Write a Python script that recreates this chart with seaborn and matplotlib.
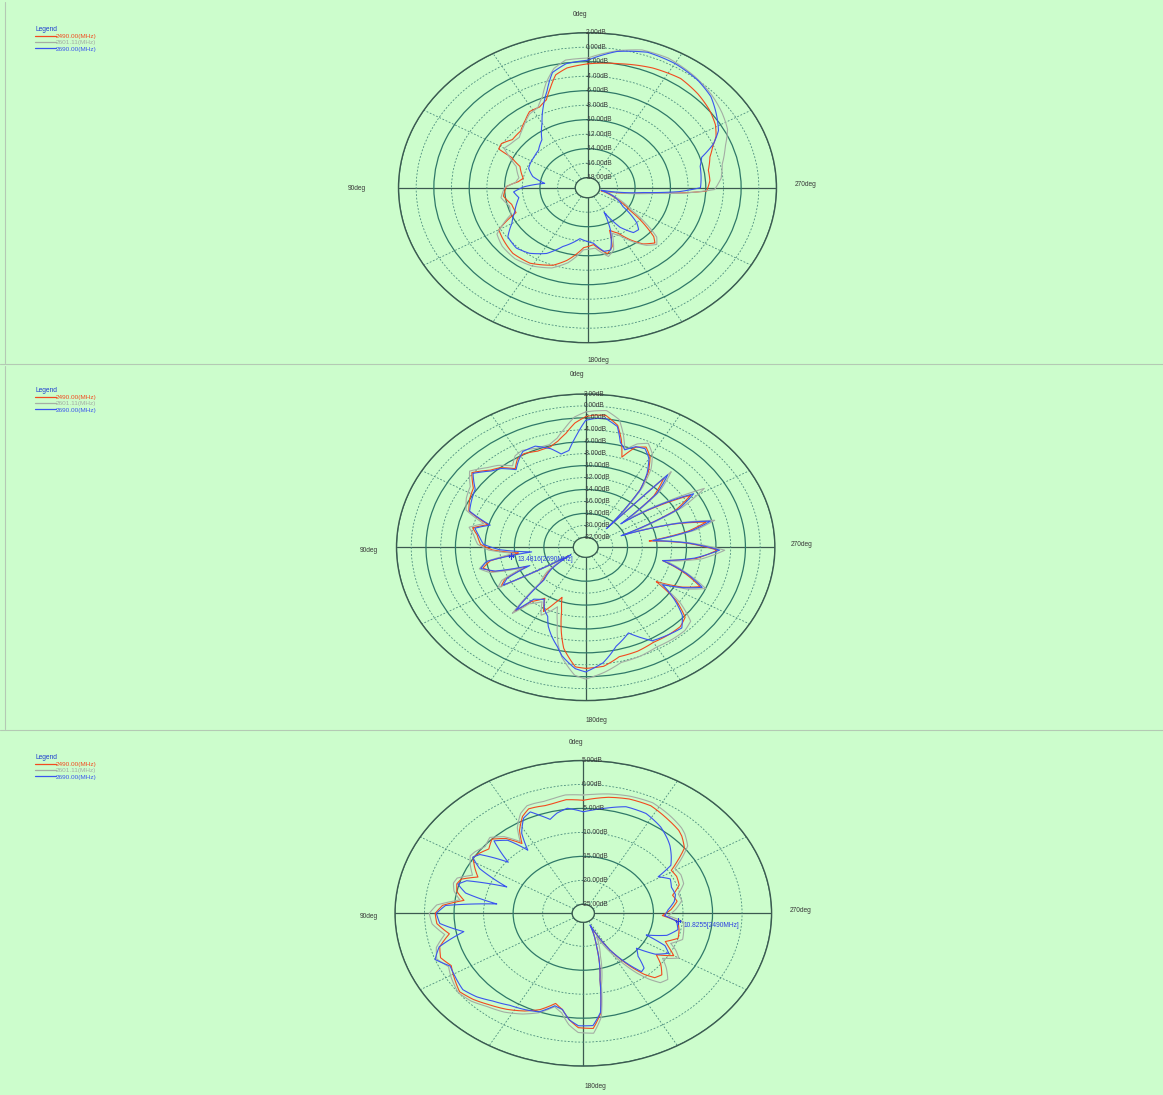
import numpy as np
import pandas as pd
import matplotlib
matplotlib.use("Agg")
import matplotlib.pyplot as plt
from matplotlib.lines import Line2D
import seaborn as sns

W, H = 1163, 1095
BG = "#ccfdcc"
FREQS = ["2490.00(MHz)", "2601.11(MHz)", "2690.00(MHz)"]
COLORS = ["#f24a1f", "#a4ada4", "#3a55ee"]
OUTER = "#3c5a50"
SOLID = "#2f7868"
DASH = "#4b8c7d"
TXT = "#3a3a3a"
MARK = "#2b3fe0"

# ---------------- panel 1 data (deg, dB) ----------------
P1_T_RED = [0, 8, 13, 17, 21, 26, 32, 37, 44, 52, 58, 62, 64, 69, 80, 84, 89, 97, 105, 113,
            117, 120, 126, 137, 148, 160, 167, 177, 185, 194, 199, 203, 209, 214, 219, 225, 228, 231, 237, 247,
            255, 264, 266, 268, 274, 280, 287, 292, 296, 301, 308, 316, 325, 336, 348, 360]
P1_DB_RED = [-2.3, -2.7, -3.4, -5.0, -6.4, -7.0, -7.0, -7.7, -8.5, -8.6, -7.9, -8.0, -9.8, -11.2, -12.0, -11.5, -10.2, -9.8, -10.5, -10.6,
             -9.0, -7.8, -7.5, -7.0, -7.1, -8.0, -9.1, -11.1, -11.5, -10.0, -10.8, -13.0, -12.2, -10.7, -9.4, -8.6, -9.3, -10.8, -13.7, -16.2,
             -17.8, -12.6, -8.9, -5.9, -5.5, -5.5, -4.9, -4.1, -3.2, -2.5, -1.9, -1.4, -1.0, -1.3, -1.9, -2.3]
P1_T_GRAY = [0, 8, 13, 18, 22, 27, 33, 40, 48, 55, 60, 64, 70, 80, 85, 90, 98, 106, 113, 118,
             122, 130, 140, 150, 160, 168, 177, 186, 194, 199, 204, 209, 215, 220, 225, 229, 232, 238, 248, 256,
             264, 266, 269, 275, 282, 290, 297, 304, 312, 322, 333, 342, 350, 360]
P1_DB_GRAY = [-1.5, -1.6, -2.5, -4.2, -5.8, -7.0, -7.3, -8.2, -9.0, -8.8, -8.5, -9.5, -10.8, -11.5, -11.2, -10.0, -9.5, -10.2, -10.0, -8.5,
              -7.3, -6.8, -6.6, -6.9, -7.6, -8.8, -10.8, -11.0, -9.6, -10.3, -12.5, -11.8, -10.2, -9.0, -8.3, -9.0, -10.5, -13.5, -16.0, -17.6,
              -12.0, -8.5, -5.0, -4.2, -3.8, -2.8, -1.6, -1.0, -0.4, 0.2, 0.7, 0.6, -0.2, -1.5]
P1_T_BLUE = [0, 8, 14, 19, 24, 30, 38, 47, 55, 63, 68, 76, 83, 89, 94, 100, 105, 112, 120, 127,
             136, 144, 153, 161, 173, 185, 192, 197, 204, 209, 214, 220, 225, 229, 237, 247, 257, 264, 267, 270,
             283, 288, 293, 298, 305, 312, 320, 330, 340, 350, 360]
P1_DB_BLUE = [-1.8, -2.1, -3.0, -5.3, -7.1, -9.1, -11.0, -11.8, -12.0, -12.1, -12.2, -13.0, -14.5, -12.2, -11.0, -11.5, -11.1, -10.5, -9.5, -8.1,
              -7.8, -8.2, -9.2, -10.8, -12.3, -11.7, -10.4, -10.4, -13.0, -15.5, -12.8, -11.3, -11.2, -12.0, -14.6, -16.0, -17.8, -13.0, -9.0, -6.6,
              -6.3, -5.8, -3.9, -2.6, -1.6, -0.6, 0.0, 0.4, 0.5, -0.3, -1.8]

# ---------------- panel 2 data ----------------
P2_T = [0, 4, 8, 12, 16, 22, 28, 32, 36, 41, 45, 51, 57, 63, 69, 74, 78, 82, 88, 92,
        96, 100, 104, 108, 112, 116, 119.5, 122, 128, 134, 138, 141, 147, 152, 156, 159, 163, 167, 170, 176,
        180, 187, 194, 202, 210, 218, 224, 229, 234, 239, 243, 247, 252, 258, 263, 268.5, 273, 277, 281, 284.5,
        288, 292, 297, 301.5, 305, 309.5, 313, 317.5, 318, 322.5, 326, 330, 334, 338, 342, 345, 348, 353, 357, 360]
P2_DB_RED = [-1.8, -2.8, -4.4, -5.5, -6.2, -6.3, -5.9, -6.2, -7.4, -6.0, -5.4, -3.8, -5.5, -6.0, -6.7, -9.9, -8.0, -8.8, -9.4, -11.0,
             -14.5, -10.5, -9.3, -10.5, -15.0, -11.5, -10.5, -21.0, -17.5, -15.5, -9.2, -12.0, -13.5, -11.5, -13.5, -14.7, -12.5, -9.0, -6.5, -3.6,
             -3.4, -3.6, -4.8, -4.9, -5.3, -5.2, -5.2, -5.8, -8.5, -12.5, -9.0, -6.8, -9.5, -13.0, -8.5, -5.8, -10.0, -15.0, -9.5, -6.8,
             -11.0, -18.0, -10.0, -7.0, -11.5, -17.0, -11.0, -8.0, -19.0, -11.6, -8.5, -6.2, -5.0, -5.6, -7.8, -5.0, -2.8, -1.4, -1.5, -1.8]
P2_DB_GRAY = [-1.0, -1.8, -3.5, -5.0, -5.8, -5.8, -5.3, -5.6, -6.8, -5.5, -4.8, -3.4, -5.0, -5.5, -6.3, -9.3, -7.5, -8.3, -9.0, -10.5,
              -14.0, -10.0, -8.8, -10.0, -14.5, -11.0, -10.0, -20.5, -17.0, -15.0, -8.8, -11.5, -12.8, -10.8, -12.0, -13.0, -10.5, -7.0, -5.0, -2.2,
              -1.6, -2.6, -3.8, -4.0, -4.4, -4.3, -4.3, -4.8, -7.8, -12.0, -8.3, -6.0, -9.0, -12.5, -7.8, -4.8, -9.5, -14.5, -8.5, -5.6,
              -10.5, -17.5, -9.0, -4.8, -10.5, -16.5, -10.0, -6.5, -18.5, -11.0, -7.8, -5.6, -4.3, -5.0, -6.5, -4.0, -1.8, -0.6, -0.8, -1.0]
P2_DB_BLUE = [-2.4, -5.0, -7.3, -7.7, -6.5, -5.4, -5.5, -6.5, -7.6, -6.2, -5.6, -4.0, -5.8, -6.3, -6.8, -10.2, -8.3, -9.0, -9.8, -12.0,
              -16.3, -10.0, -9.0, -10.8, -15.5, -11.8, -10.8, -21.3, -17.8, -15.8, -9.5, -12.5, -13.3, -11.8, -11.0, -9.5, -8.0, -6.6, -5.2, -3.3,
              -2.8, -4.2, -6.6, -8.2, -5.6, -5.2, -4.9, -6.3, -8.8, -11.5, -8.8, -6.5, -9.2, -13.0, -8.8, -5.5, -9.8, -14.5, -9.0, -6.2,
              -10.8, -18.5, -9.5, -6.5, -11.0, -17.5, -10.5, -7.2, -19.5, -11.5, -8.8, -6.5, -5.3, -5.5, -6.5, -5.5, -3.0, -1.9, -2.1, -2.4]

# ---------------- panel 3 data ----------------
P3_T = [0, 7, 12, 16, 20, 23, 27, 32, 35.5, 40, 45, 50, 55, 58, 62, 67, 71, 74, 78, 82.4,
        86, 90, 95, 100.7, 106, 111, 116, 121, 128, 134, 140, 147, 154, 160, 166, 170, 174, 178, 184, 188,
        191.5, 198, 205, 210.5, 216, 219, 222, 226, 231, 235, 240, 244, 247, 252, 258, 264, 268, 273, 279, 284,
        290, 296, 301, 304, 308.5, 314, 317, 324, 333, 342, 350, 356, 360]
P3_DB_RED = [-3.3, -3.0, -3.4, -3.5, -3.3, -3.2, -4.2, -6.5, -9.0, -6.5, -5.0, -6.0, -5.2, -4.9, -6.0, -7.5, -5.0, -4.6, -5.0, -6.5,
             -3.0, -1.8, -2.0, -3.8, -1.6, -1.0, -2.0, -1.3, -0.3, -1.0, -2.0, -3.0, -4.2, -5.5, -7.5, -6.5, -4.5, -3.0, -2.8, -5.8,
             -12.7, -19.6, -24.0, -18.0, -13.0, -10.5, -8.8, -8.4, -10.0, -11.8, -9.2, -10.8, -11.8, -10.0, -10.3, -10.8, -13.5, -12.0, -10.8, -11.3,
             -9.6, -9.3, -9.5, -7.8, -5.0, -3.7, -3.2, -2.6, -1.7, -1.8, -2.3, -2.9, -3.3]
P3_DB_GRAY = [-2.2, -2.0, -2.4, -2.6, -2.5, -2.5, -3.5, -5.8, -8.5, -6.0, -4.5, -5.2, -4.5, -4.3, -5.2, -6.5, -4.3, -4.0, -4.5, -5.8,
              -2.0, -0.8, -1.2, -3.0, -1.0, -0.3, -1.5, -0.8, 0.0, -0.5, -1.5, -2.3, -3.5, -4.8, -6.8, -5.8, -3.5, -2.0, -1.8, -5.0,
              -11.5, -17.5, -21.5, -16.5, -11.5, -9.2, -7.4, -7.0, -8.8, -10.5, -8.2, -9.5, -10.8, -9.2, -9.5, -9.8, -12.5, -11.2, -10.0, -10.3,
              -8.8, -8.5, -8.8, -7.0, -4.3, -3.0, -2.5, -1.8, -1.0, -1.2, -1.6, -2.0, -2.2]
P3_DB_BLUE = [-5.7, -4.8, -5.5, -6.5, -5.1, -3.9, -4.6, -7.2, -10.7, -7.0, -5.5, -10.3, -5.5, -4.8, -7.0, -12.8, -6.0, -4.8, -6.5, -12.1,
              -3.5, -2.0, -2.5, -6.3, -1.5, 0.0, -1.8, -1.5, -1.0, -1.8, -3.0, -4.0, -4.5, -5.0, -7.0, -6.5, -4.5, -3.4, -3.4, -6.0,
              -12.7, -19.6, -24.2, -18.0, -13.5, -11.2, -11.5, -14.0, -15.3, -12.0, -10.2, -11.5, -15.3, -12.0, -10.5, -11.0, -13.1, -12.5, -11.3, -10.8,
              -11.0, -10.5, -12.1, -9.0, -7.85, -6.5, -5.9, -4.6, -3.5, -3.5, -4.6, -5.3, -5.7]

# markers (deg, dB, text)
P2_MARK = (98.0, -13.4816, "13.4816[2690MHz]")
P3_MARK = (264.0, -10.8255, "10.8255[2490MHz]")

sns.set_theme(style="white")
plt.rcParams["font.family"] = ["Liberation Sans", "DejaVu Sans"]
plt.rcParams["axes.unicode_minus"] = False

fig = plt.figure(figsize=(W / 100, H / 100), dpi=100)
fig.patch.set_facecolor(BG)

FS = 4.8


def fx(x):
    return x / W


def fy(y):
    return 1 - y / H


panels = [
    dict(box=(398.5, 32.7, 776.5, 342.7), rmin=-18, rmax=2, step=2, inner=30 / 465,
         series=[(P1_T_RED, P1_DB_RED), (P1_T_GRAY, P1_DB_GRAY), (P1_T_BLUE, P1_DB_BLUE)],
         lab0=(580, 14), lab90=(357, 188), lab270=(806, 185), lab180=(598, 360),
         legend_top=26, mark=None),
    dict(box=(396.5, 394.0, 774.9, 700.6), rmin=-22, rmax=2, step=2, inner=30 / 460,
         series=[(P2_T, P2_DB_RED), (P2_T, P2_DB_GRAY), (P2_T, P2_DB_BLUE)],
         lab0=(577, 375), lab90=(369, 550), lab270=(802, 545), lab180=(596, 720),
         legend_top=387, mark=P2_MARK),
    dict(box=(395.0, 760.5, 771.6, 1066.1), rmin=-25, rmax=5, step=5, inner=27 / 458.5,
         series=[(P3_T, P3_DB_RED), (P3_T, P3_DB_GRAY), (P3_T, P3_DB_BLUE)],
         lab0=(576, 742), lab90=(369, 916), lab270=(801, 911), lab180=(595, 1086),
         legend_top=754, mark=P3_MARK),
]

# thin screenshot borders between the stacked panels
for (xa, ya, xb, yb) in [(5, 2, 5, 363), (5, 366, 5, 729), (0, 364, W, 364), (0, 730, W, 730)]:
    fig.add_artist(Line2D([fx(xa), fx(xb)], [fy(ya), fy(yb)], transform=fig.transFigure,
                          color="#b4c9b4", lw=0.8))

for p in panels:
    x0, y0, x1, y1 = p["box"]
    ax = fig.add_axes([fx(x0), fy(y1), (x1 - x0) / W, (y1 - y0) / H], projection="polar")
    ax.set_aspect("auto")
    ax.patch.set_facecolor("none")
    ax.set_theta_zero_location("N")
    ax.set_theta_direction(1)

    frames = []
    for (th, db), name in zip(p["series"], FREQS):
        assert len(th) == len(db)
        frames.append(pd.DataFrame({"theta": np.deg2rad(th), "dB": db, "freq": name}))
    df = pd.concat(frames, ignore_index=True)
    sns.lineplot(data=df, x="theta", y="dB", hue="freq", hue_order=FREQS, palette=COLORS,
                 sort=False, estimator=None, legend=False, linewidth=0.8, ax=ax)
    for ln in ax.get_lines():
        ln.get_path()._interpolation_steps = 12
        ln.set_solid_joinstyle("round")

    rmin, rmax, step = p["rmin"], p["rmax"], p["step"]
    f = p["inner"]
    ax.set_thetalim(0, 2 * np.pi)
    ax.set_rlim(rmin, rmax)
    ax.set_rorigin(rmin - f / (1 - f) * (rmax - rmin))
    rings = np.arange(rmin, rmax + 0.01, step)
    ax.set_rgrids(rings, labels=[""] * len(rings))
    ax.set_thetagrids(np.arange(0, 360, 30), labels=[""] * 12)
    ax.grid(True)
    for v, gl in zip(rings, ax.yaxis.get_gridlines()):
        k = int(round((rmax - v) / step))
        if k % 2 == 0:
            gl.set_linestyle("-")
            gl.set_color(SOLID)
            gl.set_linewidth(0.9)
        else:
            gl.set_linestyle((0, (2.2, 2.0)))
            gl.set_color(DASH)
            gl.set_linewidth(0.6)
    for a, gl in zip(np.arange(0, 360, 30), ax.xaxis.get_gridlines()):
        if a % 90 == 0:
            gl.set_linestyle("-")
            gl.set_color(OUTER)
            gl.set_linewidth(0.9)
        else:
            gl.set_linestyle((0, (2.2, 2.0)))
            gl.set_color(DASH)
            gl.set_linewidth(0.6)
    ax.tick_params(length=0)
    ax.set_xlabel("")
    ax.set_ylabel("")
    ax.spines["polar"].set_color(OUTER)
    ax.spines["polar"].set_linewidth(1.0)
    ax.spines["inner"].set_color(OUTER)
    ax.spines["inner"].set_linewidth(0.9)

    for v in rings:
        ax.annotate(f"{v:.2f}dB", xy=(0, v), xytext=(-2, 0), textcoords="offset pixels",
                    ha="left", va="center", fontsize=FS, color=TXT, zorder=5)

    for key, txt in (("lab0", "0deg"), ("lab90", "90deg"), ("lab270", "270deg"), ("lab180", "180deg")):
        x, y = p[key]
        fig.text(fx(x), fy(y), txt, ha="center", va="center", fontsize=FS, color=TXT)

    if p["mark"] is not None:
        mt, mv, mtext = p["mark"]
        ax.plot([np.deg2rad(mt)], [mv], marker="+", ms=4, mew=0.8, color=MARK, ls="none", zorder=6)
        ax.annotate(mtext, xy=(np.deg2rad(mt), mv), xytext=(6, -4), textcoords="offset pixels",
                    ha="left", va="center", fontsize=FS, color=MARK, zorder=6)

    handles = [Line2D([], [], color=c, lw=0.9) for c in COLORS]
    leg = ax.legend(handles, FREQS, loc="upper left", bbox_to_anchor=(fx(35), fy(p["legend_top"])),
                    bbox_transform=fig.transFigure, frameon=False, fontsize=4.6,
                    title="Legend", title_fontsize=4.8, handlelength=3.3, handletextpad=0.0,
                    labelspacing=0.12, borderpad=0, borderaxespad=0, labelcolor=COLORS,
                    alignment="left")
    leg.get_title().set_color("#1f3fd0")

fig.savefig("out.png", dpi=100, facecolor=BG)
